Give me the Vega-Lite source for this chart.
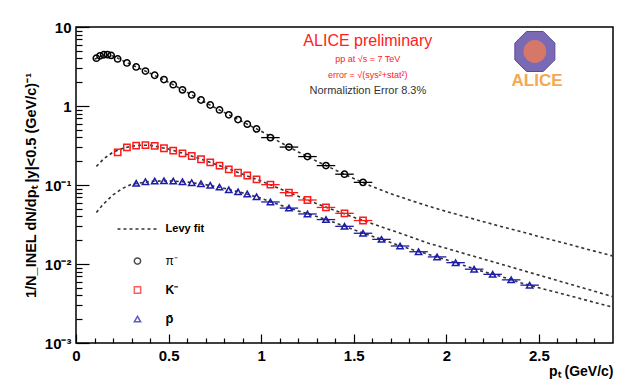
{
  "$schema": "https://vega.github.io/schema/vega-lite/v6.json",
  "width": 537,
  "height": 316,
  "autosize": "none",
  "padding": {"left": 76, "top": 27, "right": 16, "bottom": 45},
  "background": "white",
  "config": {
    "font": "Liberation Sans",
    "view": {"stroke": "black", "strokeWidth": 1.5},
    "axis": {"labelOverlap": false}
  },
  "resolve": {"axis": {"x": "independent", "y": "independent"}},
  "datasets": {
    "pts": [
      {"pt": 0.11, "y": 4.03, "s": "pi"},
      {"pt": 0.13, "y": 4.32, "s": "pi"},
      {"pt": 0.15, "y": 4.45, "s": "pi"},
      {"pt": 0.17, "y": 4.47, "s": "pi"},
      {"pt": 0.19, "y": 4.37, "s": "pi"},
      {"pt": 0.225, "y": 3.94, "s": "pi"},
      {"pt": 0.275, "y": 3.51, "s": "pi"},
      {"pt": 0.325, "y": 3.12, "s": "pi"},
      {"pt": 0.375, "y": 2.77, "s": "pi"},
      {"pt": 0.425, "y": 2.45, "s": "pi"},
      {"pt": 0.475, "y": 2.16, "s": "pi"},
      {"pt": 0.525, "y": 1.86, "s": "pi"},
      {"pt": 0.575, "y": 1.6, "s": "pi"},
      {"pt": 0.625, "y": 1.38, "s": "pi"},
      {"pt": 0.675, "y": 1.19, "s": "pi"},
      {"pt": 0.725, "y": 1.03, "s": "pi"},
      {"pt": 0.775, "y": 0.891, "s": "pi"},
      {"pt": 0.825, "y": 0.773, "s": "pi"},
      {"pt": 0.875, "y": 0.673, "s": "pi"},
      {"pt": 0.925, "y": 0.589, "s": "pi"},
      {"pt": 0.975, "y": 0.513, "s": "pi"},
      {"pt": 1.05, "y": 0.398, "s": "pi", "xlo": 1.0, "xhi": 1.1},
      {"pt": 1.15, "y": 0.302, "s": "pi", "xlo": 1.1, "xhi": 1.2},
      {"pt": 1.25, "y": 0.229, "s": "pi", "xlo": 1.2, "xhi": 1.3},
      {"pt": 1.35, "y": 0.176, "s": "pi", "xlo": 1.3, "xhi": 1.4},
      {"pt": 1.45, "y": 0.137, "s": "pi", "xlo": 1.4, "xhi": 1.5},
      {"pt": 1.55, "y": 0.108, "s": "pi", "xlo": 1.5, "xhi": 1.6},
      {"pt": 0.225, "y": 0.259, "s": "K"},
      {"pt": 0.275, "y": 0.3, "s": "K"},
      {"pt": 0.325, "y": 0.315, "s": "K"},
      {"pt": 0.375, "y": 0.32, "s": "K"},
      {"pt": 0.425, "y": 0.312, "s": "K"},
      {"pt": 0.475, "y": 0.292, "s": "K"},
      {"pt": 0.525, "y": 0.272, "s": "K"},
      {"pt": 0.575, "y": 0.252, "s": "K"},
      {"pt": 0.625, "y": 0.233, "s": "K"},
      {"pt": 0.675, "y": 0.212, "s": "K"},
      {"pt": 0.725, "y": 0.193, "s": "K"},
      {"pt": 0.775, "y": 0.176, "s": "K"},
      {"pt": 0.825, "y": 0.158, "s": "K"},
      {"pt": 0.875, "y": 0.143, "s": "K"},
      {"pt": 0.925, "y": 0.132, "s": "K"},
      {"pt": 0.975, "y": 0.118, "s": "K"},
      {"pt": 1.05, "y": 0.101, "s": "K", "xlo": 1.0, "xhi": 1.1},
      {"pt": 1.15, "y": 0.08, "s": "K", "xlo": 1.1, "xhi": 1.2},
      {"pt": 1.25, "y": 0.0646, "s": "K", "xlo": 1.2, "xhi": 1.3},
      {"pt": 1.35, "y": 0.052, "s": "K", "xlo": 1.3, "xhi": 1.4},
      {"pt": 1.45, "y": 0.0438, "s": "K", "xlo": 1.4, "xhi": 1.5},
      {"pt": 1.55, "y": 0.0355, "s": "K", "xlo": 1.5, "xhi": 1.6},
      {"pt": 0.325, "y": 0.105, "s": "pbar"},
      {"pt": 0.375, "y": 0.11, "s": "pbar"},
      {"pt": 0.425, "y": 0.112, "s": "pbar"},
      {"pt": 0.475, "y": 0.113, "s": "pbar"},
      {"pt": 0.525, "y": 0.112, "s": "pbar"},
      {"pt": 0.575, "y": 0.11, "s": "pbar"},
      {"pt": 0.625, "y": 0.107, "s": "pbar"},
      {"pt": 0.675, "y": 0.104, "s": "pbar"},
      {"pt": 0.725, "y": 0.099, "s": "pbar"},
      {"pt": 0.775, "y": 0.094, "s": "pbar"},
      {"pt": 0.825, "y": 0.087, "s": "pbar"},
      {"pt": 0.875, "y": 0.082, "s": "pbar"},
      {"pt": 0.925, "y": 0.077, "s": "pbar"},
      {"pt": 0.975, "y": 0.071, "s": "pbar"},
      {"pt": 1.05, "y": 0.061, "s": "pbar", "xlo": 1.0, "xhi": 1.1},
      {"pt": 1.15, "y": 0.051, "s": "pbar", "xlo": 1.1, "xhi": 1.2},
      {"pt": 1.25, "y": 0.043, "s": "pbar", "xlo": 1.2, "xhi": 1.3},
      {"pt": 1.35, "y": 0.0365, "s": "pbar", "xlo": 1.3, "xhi": 1.4},
      {"pt": 1.45, "y": 0.03, "s": "pbar", "xlo": 1.4, "xhi": 1.5},
      {"pt": 1.55, "y": 0.0245, "s": "pbar", "xlo": 1.5, "xhi": 1.6},
      {"pt": 1.65, "y": 0.0205, "s": "pbar", "xlo": 1.6, "xhi": 1.7},
      {"pt": 1.75, "y": 0.0169, "s": "pbar", "xlo": 1.7, "xhi": 1.8},
      {"pt": 1.85, "y": 0.0143, "s": "pbar", "xlo": 1.8, "xhi": 1.9},
      {"pt": 1.95, "y": 0.0123, "s": "pbar", "xlo": 1.9, "xhi": 2.0},
      {"pt": 2.05, "y": 0.0104, "s": "pbar", "xlo": 2.0, "xhi": 2.1},
      {"pt": 2.15, "y": 0.0086, "s": "pbar", "xlo": 2.1, "xhi": 2.2},
      {"pt": 2.25, "y": 0.0074, "s": "pbar", "xlo": 2.2, "xhi": 2.3},
      {"pt": 2.35, "y": 0.0063, "s": "pbar", "xlo": 2.3, "xhi": 2.4},
      {"pt": 2.45, "y": 0.0054, "s": "pbar", "xlo": 2.4, "xhi": 2.5}
    ],
    "fit": [
      {"pt": 0.1, "y": 3.9, "s": "pi"},
      {"pt": 0.15, "y": 4.45, "s": "pi"},
      {"pt": 0.2, "y": 4.3, "s": "pi"},
      {"pt": 0.3, "y": 3.32, "s": "pi"},
      {"pt": 0.4, "y": 2.6, "s": "pi"},
      {"pt": 0.5, "y": 2.0, "s": "pi"},
      {"pt": 0.6, "y": 1.49, "s": "pi"},
      {"pt": 0.7, "y": 1.1, "s": "pi"},
      {"pt": 0.8, "y": 0.83, "s": "pi"},
      {"pt": 0.9, "y": 0.63, "s": "pi"},
      {"pt": 1.0, "y": 0.48, "s": "pi"},
      {"pt": 1.1, "y": 0.35, "s": "pi"},
      {"pt": 1.2, "y": 0.262, "s": "pi"},
      {"pt": 1.3, "y": 0.2, "s": "pi"},
      {"pt": 1.4, "y": 0.155, "s": "pi"},
      {"pt": 1.5, "y": 0.121, "s": "pi"},
      {"pt": 1.6, "y": 0.0955, "s": "pi"},
      {"pt": 1.7, "y": 0.0776, "s": "pi"},
      {"pt": 1.8, "y": 0.0646, "s": "pi"},
      {"pt": 1.9, "y": 0.0543, "s": "pi"},
      {"pt": 2.0, "y": 0.0462, "s": "pi"},
      {"pt": 2.1, "y": 0.0398, "s": "pi"},
      {"pt": 2.2, "y": 0.0343, "s": "pi"},
      {"pt": 2.3, "y": 0.0297, "s": "pi"},
      {"pt": 2.4, "y": 0.0258, "s": "pi"},
      {"pt": 2.5, "y": 0.0223, "s": "pi"},
      {"pt": 2.6, "y": 0.0194, "s": "pi"},
      {"pt": 2.7, "y": 0.0168, "s": "pi"},
      {"pt": 2.8, "y": 0.01455, "s": "pi"},
      {"pt": 2.9, "y": 0.0126, "s": "pi"},
      {"pt": 0.11, "y": 0.172, "s": "K"},
      {"pt": 0.15, "y": 0.215, "s": "K"},
      {"pt": 0.2, "y": 0.26, "s": "K"},
      {"pt": 0.25, "y": 0.29, "s": "K"},
      {"pt": 0.3, "y": 0.31, "s": "K"},
      {"pt": 0.35, "y": 0.318, "s": "K"},
      {"pt": 0.4, "y": 0.318, "s": "K"},
      {"pt": 0.5, "y": 0.285, "s": "K"},
      {"pt": 0.6, "y": 0.243, "s": "K"},
      {"pt": 0.7, "y": 0.203, "s": "K"},
      {"pt": 0.8, "y": 0.168, "s": "K"},
      {"pt": 0.9, "y": 0.137, "s": "K"},
      {"pt": 1.0, "y": 0.112, "s": "K"},
      {"pt": 1.1, "y": 0.09, "s": "K"},
      {"pt": 1.2, "y": 0.072, "s": "K"},
      {"pt": 1.3, "y": 0.058, "s": "K"},
      {"pt": 1.4, "y": 0.0475, "s": "K"},
      {"pt": 1.5, "y": 0.039, "s": "K"},
      {"pt": 1.6, "y": 0.0324, "s": "K"},
      {"pt": 1.7, "y": 0.0269, "s": "K"},
      {"pt": 1.8, "y": 0.0224, "s": "K"},
      {"pt": 1.9, "y": 0.0184, "s": "K"},
      {"pt": 2.0, "y": 0.0158, "s": "K"},
      {"pt": 2.1, "y": 0.0135, "s": "K"},
      {"pt": 2.2, "y": 0.01156, "s": "K"},
      {"pt": 2.3, "y": 0.00989, "s": "K"},
      {"pt": 2.4, "y": 0.00845, "s": "K"},
      {"pt": 2.5, "y": 0.00723, "s": "K"},
      {"pt": 2.6, "y": 0.00618, "s": "K"},
      {"pt": 2.7, "y": 0.00528, "s": "K"},
      {"pt": 2.8, "y": 0.00452, "s": "K"},
      {"pt": 2.9, "y": 0.00385, "s": "K"},
      {"pt": 0.11, "y": 0.045, "s": "pbar"},
      {"pt": 0.15, "y": 0.058, "s": "pbar"},
      {"pt": 0.2, "y": 0.075, "s": "pbar"},
      {"pt": 0.25, "y": 0.09, "s": "pbar"},
      {"pt": 0.3, "y": 0.102, "s": "pbar"},
      {"pt": 0.4, "y": 0.111, "s": "pbar"},
      {"pt": 0.5, "y": 0.113, "s": "pbar"},
      {"pt": 0.6, "y": 0.109, "s": "pbar"},
      {"pt": 0.7, "y": 0.101, "s": "pbar"},
      {"pt": 0.8, "y": 0.091, "s": "pbar"},
      {"pt": 0.9, "y": 0.0795, "s": "pbar"},
      {"pt": 1.0, "y": 0.068, "s": "pbar"},
      {"pt": 1.1, "y": 0.056, "s": "pbar"},
      {"pt": 1.2, "y": 0.047, "s": "pbar"},
      {"pt": 1.3, "y": 0.04, "s": "pbar"},
      {"pt": 1.4, "y": 0.0333, "s": "pbar"},
      {"pt": 1.5, "y": 0.0272, "s": "pbar"},
      {"pt": 1.6, "y": 0.0225, "s": "pbar"},
      {"pt": 1.7, "y": 0.0187, "s": "pbar"},
      {"pt": 1.8, "y": 0.0156, "s": "pbar"},
      {"pt": 1.9, "y": 0.0133, "s": "pbar"},
      {"pt": 2.0, "y": 0.0113, "s": "pbar"},
      {"pt": 2.1, "y": 0.0095, "s": "pbar"},
      {"pt": 2.2, "y": 0.008, "s": "pbar"},
      {"pt": 2.3, "y": 0.0069, "s": "pbar"},
      {"pt": 2.4, "y": 0.0058, "s": "pbar"},
      {"pt": 2.5, "y": 0.005, "s": "pbar"},
      {"pt": 2.6, "y": 0.00435, "s": "pbar"},
      {"pt": 2.7, "y": 0.00377, "s": "pbar"},
      {"pt": 2.8, "y": 0.00327, "s": "pbar"},
      {"pt": 2.9, "y": 0.00283, "s": "pbar"}
    ]
  },
  "layer": [
    {
      "data": {"name": "fit"},
      "mark": {"type": "line", "color": "#333333", "strokeWidth": 1.6, "strokeDash": [3, 3], "clip": true},
      "encoding": {
        "x": {
          "field": "pt", "type": "quantitative",
          "scale": {"domain": [0, 2.9], "nice": false, "zero": false},
          "axis": {
            "values": [0, 0.1, 0.2, 0.3, 0.4, 0.5, 0.6, 0.7, 0.8, 0.9, 1, 1.1, 1.2, 1.3, 1.4, 1.5, 1.6, 1.7, 1.8, 1.9, 2, 2.1, 2.2, 2.3, 2.4, 2.5, 2.6, 2.7, 2.8],
            "labelExpr": "datum.value==0 ? '0' : datum.value==0.5 ? '0.5' : datum.value==1 ? '1' : datum.value==1.5 ? '1.5' : datum.value==2 ? '2' : datum.value==2.5 ? '2.5' : ''",
            "tickSize": {"condition": {"test": "abs(datum.value*2-round(datum.value*2))<0.001", "value": -9}, "value": -5},
            "tickColor": "black", "tickWidth": 1.2,
            "domain": false, "grid": false,
            "labelPadding": 14, "labelFontSize": 15, "labelFontWeight": "bold", "labelColor": "black",
            "labelFlush": false, "labelOverlap": false, "labelBound": false,
            "title": "pₜ (GeV/c)", "titleAnchor": "end", "titleFontSize": 14, "titleFontWeight": "bold",
            "titleColor": "black", "titlePadding": -3
          }
        },
        "y": {
          "field": "y", "type": "quantitative",
          "scale": {"type": "log", "domain": [0.001, 10], "nice": false},
          "axis": {
            "values": [0.001, 0.002, 0.003, 0.004, 0.005, 0.006, 0.007, 0.008, 0.009, 0.01, 0.02, 0.03, 0.04, 0.05, 0.06, 0.07, 0.08, 0.09, 0.1, 0.2, 0.3, 0.4, 0.5, 0.6, 0.7, 0.8, 0.9, 1, 2, 3, 4, 5, 6, 7, 8, 9, 10],
            "labelExpr": "datum.value==10 ? '10' : datum.value==1 ? '1' : datum.value==0.1 ? '10⁻¹' : datum.value==0.01 ? '10⁻²' : datum.value==0.001 ? '10⁻³' : ''",
            "tickSize": {"condition": {"test": "abs(log(datum.value)/log(10)-round(log(datum.value)/log(10)))<0.001", "value": -13}, "value": -6},
            "tickColor": "black", "tickWidth": 1.2,
            "domain": false, "grid": false,
            "labelPadding": 18, "labelFontSize": 15, "labelFontWeight": "bold", "labelColor": "black",
            "labelFlush": false, "labelOverlap": false,
            "title": "1/N_INEL dN/dpₜ |y|<0.5 (GeV/c)⁻¹", "titleFontSize": 14.5, "titleFontWeight": "bold",
            "titleColor": "black", "titlePadding": 6
          }
        },
        "detail": {"field": "s"}
      }
    },
    {
      "data": {"name": "pts"},
      "transform": [{"filter": "isValid(datum.xlo)"}],
      "mark": {"type": "rule", "strokeWidth": 1.3},
      "encoding": {
        "x": {"field": "xlo", "type": "quantitative", "axis": null},
        "x2": {"field": "xhi"},
        "y": {"field": "y", "type": "quantitative", "axis": null},
        "color": {"field": "s", "type": "nominal", "scale": {"domain": ["pi", "K", "pbar"], "range": ["black", "#ff1a1a", "#1c1ca8"]}, "legend": null}
      }
    },
    {
      "data": {"name": "pts"},
      "mark": {"type": "point", "filled": false, "strokeWidth": 1.5, "opacity": 1},
      "encoding": {
        "x": {"field": "pt", "type": "quantitative", "axis": null},
        "y": {"field": "y", "type": "quantitative", "axis": null},
        "color": {"field": "s", "type": "nominal", "legend": null},
        "shape": {"field": "s", "type": "nominal", "scale": {"domain": ["pi", "K", "pbar"], "range": ["circle", "square", "triangle-up"]}, "legend": null},
        "size": {"value": 40}
      }
    },
    {
      "data": {"values": [{}]},
      "mark": {"type": "text", "text": "ALICE preliminary", "color": "#ff2020", "fontSize": 16, "align": "center", "baseline": "middle"},
      "encoding": {"x": {"datum": 1.576, "axis": null}, "y": {"datum": 6.65, "axis": null}}
    },
    {
      "data": {"values": [{}]},
      "mark": {"type": "text", "text": "pp at √s = 7 TeV", "color": "#ff2020", "fontSize": 9, "align": "center", "baseline": "middle"},
      "encoding": {"x": {"datum": 1.576, "axis": null}, "y": {"datum": 3.94, "axis": null}}
    },
    {
      "data": {"values": [{}]},
      "mark": {"type": "text", "text": "error = √(sys²+stat²)", "color": "#ff2020", "fontSize": 9, "align": "center", "baseline": "middle"},
      "encoding": {"x": {"datum": 1.576, "axis": null}, "y": {"datum": 2.47, "axis": null}}
    },
    {
      "data": {"values": [{}]},
      "mark": {"type": "text", "text": "Normaliztion Error 8.3%", "color": "#333333", "fontSize": 11, "align": "center", "baseline": "middle"},
      "encoding": {"x": {"datum": 1.576, "axis": null}, "y": {"datum": 1.55, "axis": null}}
    },
    {
      "data": {"values": [{}]},
      "mark": {"type": "point", "shape": "M -0.42,-1 L 0.42,-1 L 1,-0.42 L 1,0.42 L 0.42,1 L -0.42,1 L -1,0.42 L -1,-0.42 Z", "filled": true, "fill": "#7a6ab5", "stroke": "#5a4a95", "strokeWidth": 1, "size": 1600, "opacity": 1},
      "encoding": {"x": {"datum": 2.478, "axis": null}, "y": {"datum": 4.9, "axis": null}}
    },
    {
      "data": {"values": [{}]},
      "mark": {"type": "point", "shape": "circle", "filled": true, "fill": "#e07a60", "size": 520, "opacity": 0.9},
      "encoding": {"x": {"datum": 2.478, "axis": null}, "y": {"datum": 4.9, "axis": null}}
    },
    {
      "data": {"values": [{}]},
      "mark": {"type": "text", "text": "ALICE", "color": "#f5a850", "fontSize": 17, "fontWeight": "bold", "align": "center", "baseline": "middle"},
      "encoding": {"x": {"datum": 2.49, "axis": null}, "y": {"datum": 2.1, "axis": null}}
    },
    {
      "data": {"values": [{}]},
      "mark": {"type": "rule", "color": "#333333", "strokeWidth": 1.6, "strokeDash": [3, 3]},
      "encoding": {"x": {"datum": 0.224, "axis": null}, "x2": {"datum": 0.44}, "y": {"datum": 0.0277, "axis": null}}
    },
    {
      "data": {"values": [{}]},
      "mark": {"type": "text", "text": "Levy fit", "color": "black", "fontSize": 11, "fontWeight": "bold", "align": "left", "baseline": "middle"},
      "encoding": {"x": {"datum": 0.484, "axis": null}, "y": {"datum": 0.0277, "axis": null}}
    },
    {
      "data": {"values": [{}]},
      "mark": {"type": "point", "shape": "circle", "filled": false, "color": "black", "strokeWidth": 1.5, "size": 40},
      "encoding": {"x": {"datum": 0.332, "axis": null}, "y": {"datum": 0.0109, "axis": null}}
    },
    {
      "data": {"values": [{}]},
      "mark": {"type": "text", "text": "π⁻", "color": "black", "fontSize": 12, "align": "left", "baseline": "middle"},
      "encoding": {"x": {"datum": 0.484, "axis": null}, "y": {"datum": 0.0109, "axis": null}}
    },
    {
      "data": {"values": [{}]},
      "mark": {"type": "point", "shape": "square", "filled": false, "color": "#ff1a1a", "strokeWidth": 1.5, "size": 40},
      "encoding": {"x": {"datum": 0.332, "axis": null}, "y": {"datum": 0.00469, "axis": null}}
    },
    {
      "data": {"values": [{}]},
      "mark": {"type": "text", "text": "K⁻", "color": "black", "fontSize": 12, "fontWeight": "bold", "align": "left", "baseline": "middle"},
      "encoding": {"x": {"datum": 0.484, "axis": null}, "y": {"datum": 0.00469, "axis": null}}
    },
    {
      "data": {"values": [{}]},
      "mark": {"type": "point", "shape": "triangle-up", "filled": false, "color": "#1c1ca8", "strokeWidth": 1.5, "size": 40},
      "encoding": {"x": {"datum": 0.332, "axis": null}, "y": {"datum": 0.00201, "axis": null}}
    },
    {
      "data": {"values": [{}]},
      "mark": {"type": "text", "text": "p̄", "color": "black", "fontSize": 13, "fontWeight": "bold", "align": "left", "baseline": "middle"},
      "encoding": {"x": {"datum": 0.484, "axis": null}, "y": {"datum": 0.00201, "axis": null}}
    }
  ]
}
